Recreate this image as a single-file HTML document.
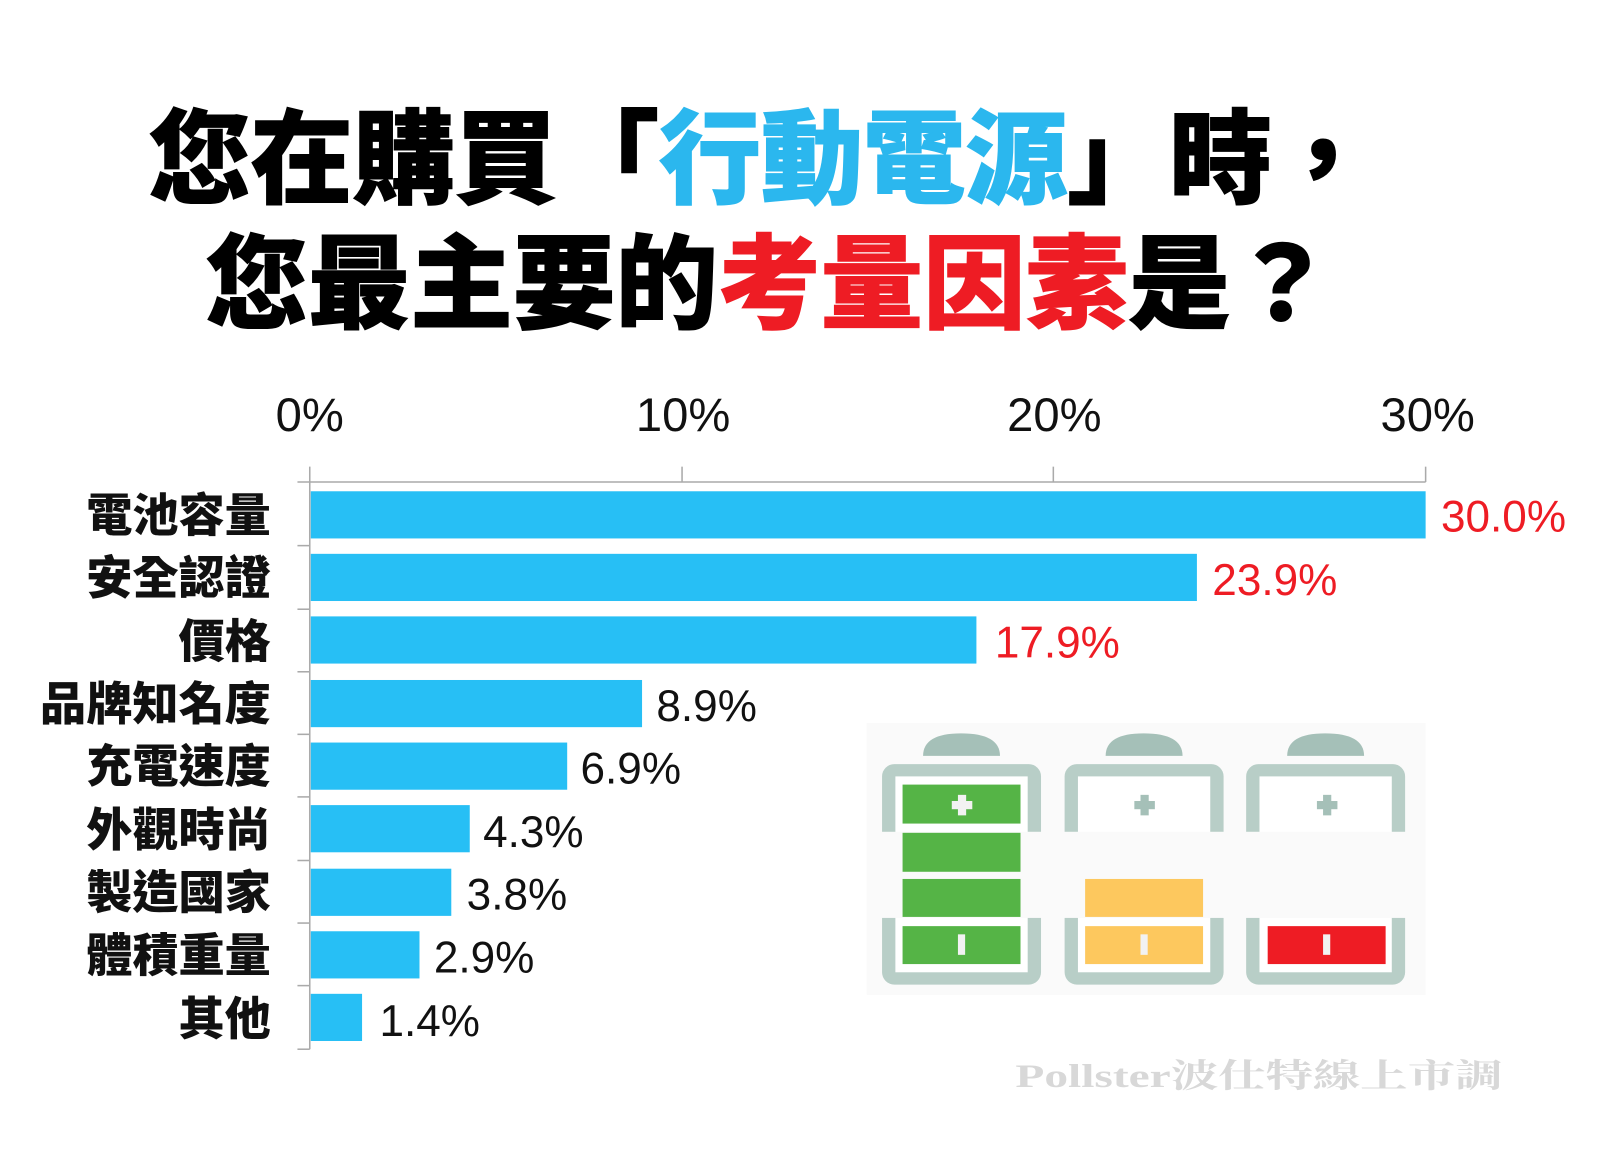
<!DOCTYPE html>
<html><head><meta charset="utf-8"><style>
html,body{margin:0;padding:0;background:#fff;}
svg{display:block;}
</style></head><body>
<svg width="1600" height="1173" viewBox="0 0 1560 1143.7" xmlns="http://www.w3.org/2000/svg">
<rect width="1560" height="1144" fill="#fff"/>
<g font-family="'Liberation Sans','Noto Sans CJK TC',sans-serif" font-weight="900" font-size="100" text-anchor="middle">
<text x="742" y="190" stroke="#000" stroke-width="1" textLength="1195" lengthAdjust="spacing">您在購買「<tspan fill="#2bb7ee" stroke="#2bb7ee">行動電源</tspan>」時，</text>
<text x="750" y="312" stroke="#000" stroke-width="1">您最主要的<tspan fill="#ee1c24" stroke="#ee1c24">考量因素</tspan>是？</text>
</g>
<g font-family="'Liberation Sans',sans-serif" font-size="46" text-anchor="middle" fill="#111">
<text x="302" y="420">0%</text><text x="666" y="420">10%</text><text x="1028" y="420">20%</text><text x="1392" y="420">30%</text>
</g>
<g stroke="#aaa" stroke-width="1.5">
<line x1="290" y1="470" x2="1390" y2="470"/>
<line x1="302" y1="455" x2="302" y2="1023"/>
<line x1="665" y1="455" x2="665" y2="470"/>
<line x1="1027" y1="455" x2="1027" y2="470"/>
<line x1="1390" y1="455" x2="1390" y2="470"/>
<line x1="290" y1="532" x2="302" y2="532"/><line x1="290" y1="594" x2="302" y2="594"/>
<line x1="290" y1="655" x2="302" y2="655"/><line x1="290" y1="716" x2="302" y2="716"/>
<line x1="290" y1="777" x2="302" y2="777"/><line x1="290" y1="839" x2="302" y2="839"/>
<line x1="290" y1="900" x2="302" y2="900"/><line x1="290" y1="961" x2="302" y2="961"/>
<line x1="290" y1="1023" x2="302" y2="1023"/>
</g>
<g fill="#27bff5">
<rect x="303" y="479" width="1087" height="46"/>
<rect x="303" y="540" width="864" height="46"/>
<rect x="303" y="601" width="649" height="46"/>
<rect x="303" y="663" width="323" height="46"/>
<rect x="303" y="724" width="250" height="46"/>
<rect x="303" y="785" width="155" height="46"/>
<rect x="303" y="847" width="137" height="46"/>
<rect x="303" y="908" width="106" height="46"/>
<rect x="303" y="969" width="50" height="46"/>
</g>
<g font-family="'Liberation Sans','Noto Sans CJK TC',sans-serif" font-weight="900" font-size="45" text-anchor="end" fill="#111">
<text x="264" y="518">電池容量</text><text x="264" y="579">安全認證</text><text x="264" y="641">價格</text>
<text x="264" y="702">品牌知名度</text><text x="264" y="763">充電速度</text><text x="264" y="825">外觀時尚</text>
<text x="264" y="886">製造國家</text><text x="264" y="947">體積重量</text><text x="264" y="1009">其他</text>
</g>
<g font-family="'Liberation Sans',sans-serif" font-size="43" fill="#111">
<text x="1405" y="518" fill="#ee1c24">30.0%</text>
<text x="1182" y="580" fill="#ee1c24">23.9%</text>
<text x="970" y="641" fill="#ee1c24">17.9%</text>
<text x="640" y="703">8.9%</text>
<text x="566" y="764">6.9%</text>
<text x="471" y="826">4.3%</text>
<text x="455" y="887">3.8%</text>
<text x="423" y="948">2.9%</text>
<text x="370" y="1010">1.4%</text>
</g>
<rect x="845" y="705" width="545" height="265" fill="#fafafa"/>
<g id="b1">
<path d="M900 737 Q900 715 937 715 Q975 715 975 737 Z" fill="#a5c0b8"/>
<rect x="860" y="745" width="155" height="215" rx="12" fill="#b8cec7"/>
<rect x="873" y="757" width="129" height="191" fill="#fff"/>
<rect x="858" y="811" width="159" height="84" fill="#fafafa"/>
</g>
<use href="#b1" x="178"/><use href="#b1" x="355"/>
<g fill="#55b446">
<rect x="880" y="765" width="115" height="38"/><rect x="880" y="812" width="115" height="38"/>
<rect x="880" y="857" width="115" height="37"/><rect x="880" y="903" width="115" height="37"/>
</g>
<rect x="1058" y="857" width="115" height="37" fill="#fdc85e"/><rect x="1058" y="903" width="115" height="37" fill="#fdc85e"/>
<rect x="1236" y="903" width="115" height="37" fill="#ee1c24"/>
<g fill="#f2f2f2"><rect x="934" y="775" width="8" height="20"/><rect x="928" y="781" width="20" height="8"/>
<rect x="934" y="911" width="7" height="20"/><rect x="1112" y="911" width="7" height="20"/><rect x="1290" y="911" width="7" height="20"/></g>
<g fill="#a5c0b8"><rect x="1112" y="775" width="8" height="20"/><rect x="1106" y="781" width="20" height="8"/>
<rect x="1290" y="775" width="8" height="20"/><rect x="1284" y="781" width="20" height="8"/></g>
<text x="990" y="1060" font-family="'Liberation Serif','Noto Serif CJK SC',serif" font-weight="bold" font-size="32" fill="#d8d8d8" textLength="475" lengthAdjust="spacingAndGlyphs">Pollster波仕特線上市調</text>
</svg>
</body></html>
